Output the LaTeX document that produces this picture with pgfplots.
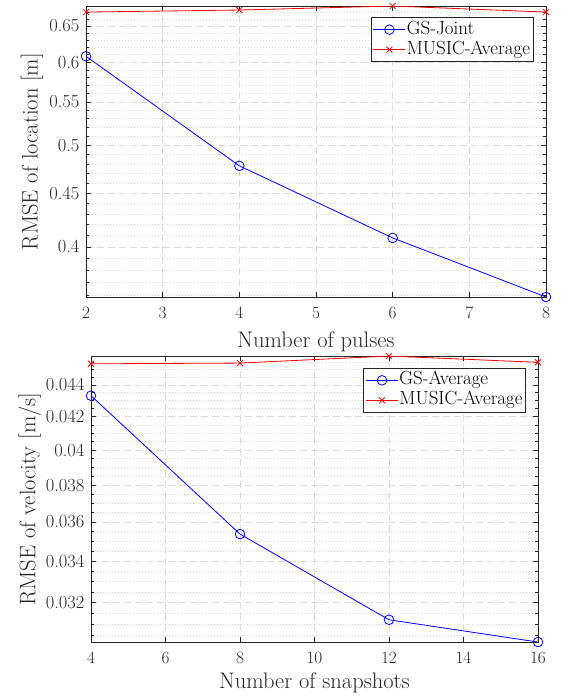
\documentclass[border=0pt]{standalone}
\usepackage{fontspec}
\usepackage{pgfplots}
\pgfplotsset{compat=1.18}
\definecolor{axcol}{rgb}{0.15,0.15,0.15}
\definecolor{gridcol}{rgb}{0.86,0.86,0.86}
\pgfplotsset{mystyle/.style={
  scale only axis,
  axis line style={axcol, line width=0.7pt},
  tick style={axcol, line width=0.6pt},
  tick align=inside, major tick length=5pt, minor tick length=3pt,
  xtick pos=both, ytick pos=both, xticklabel pos=lower, yticklabel pos=left,
  grid=both,
  major grid style={gridcol, dash pattern=on 7pt off 4pt, line width=0.7pt},
  minor grid style={gridcol, dash pattern=on 1pt off 2pt, line width=0.7pt},
  tick label style={font=\fontsize{18.5}{22}\selectfont, text=axcol},
  xticklabel style={yshift=-7pt},
  yticklabel style={xshift=-3pt},
  label style={font=\fontsize{22.5}{26}\selectfont, text=axcol},
  xlabel style={at={(axis description cs:0.5,0)}, anchor=base},
  legend style={font=\fontsize{19}{22}\selectfont, draw=axcol, line width=0.6pt, fill=white,
    anchor=north east, inner xsep=2pt, inner ysep=2pt, row sep=0pt,
    nodes={text height=14pt, text depth=5pt, inner ysep=0.5pt, inner xsep=1pt}},
  legend cell align=left,
  legend image code/.code={\draw[mark repeat=2,mark phase=2] plot coordinates {(0pt,0pt) (16pt,0pt) (32pt,0pt)};},
}}
\begin{document}
\begin{tikzpicture}
\useasboundingbox (0pt,0pt) rectangle (568pt,-696pt);
\begin{axis}[ymode=log, mystyle,
  at={(86pt,-297pt)}, anchor=south west, width=460pt, height=291pt,
  xmin=2, xmax=8, ymin=0.3584, ymax=0.679,
  xtick={2,3,4,5,6,7,8},
  ytick={0.4,0.45,0.5,0.55,0.6,0.65},
  yticklabels={0.4,0.45,0.5,0.55,0.6,0.65},
  minor ytick={0.36,0.37,0.38,0.39,0.41,0.42,0.43,0.44,0.46,0.47,0.48,0.49,0.51,0.52,0.53,0.54,0.56,0.57,0.58,0.59,0.61,0.62,0.63,0.64,0.66,0.67},
  xlabel={Number of pulses},
  ylabel={RMSE of location [m]},
  xlabel style={yshift=-50pt},
  ylabel style={at={(axis description cs:-0.1050,0.5)}, anchor=base},
  legend style={at={(rel axis cs:0.9724,0.961)}},
]
\addplot[blue, line width=0.8pt, mark=o, mark size=4.8pt] coordinates {(2,0.608) (4,0.478) (6,0.408) (8,0.3584)};
\addlegendentry{GS-Joint}
\addplot[red, line width=0.8pt, mark=x, mark size=4.2pt] coordinates {(2,0.670) (4,0.673) (6,0.679) (8,0.670)};
\addlegendentry{MUSIC-Average}
\end{axis}
\begin{axis}[ymode=log, mystyle,
  at={(91pt,-642pt)}, anchor=south west, width=447pt, height=286pt,
  xmin=4, xmax=16, ymin=0.0302, ymax=0.0459,
  xtick={4,6,8,10,12,14,16},
  ytick={0.032,0.034,0.036,0.038,0.04,0.042,0.044},
  yticklabels={0.032,0.034,0.036,0.038,0.04,0.042,0.044},
  minor ytick={0.0305,0.031,0.0315,0.0325,0.033,0.0335,0.0345,0.035,0.0355,0.0365,0.037,0.0375,0.0385,0.039,0.0395,0.0405,0.041,0.0415,0.0425,0.043,0.0435,0.0445,0.045,0.0455},
  xlabel={Number of snapshots},
  ylabel={RMSE of velocity [m/s]},
  xlabel style={yshift=-46pt},
  ylabel style={at={(axis description cs:-0.1245,0.5)}, anchor=base},
  legend style={at={(rel axis cs:0.973,0.958)}},
]
\addplot[blue, line width=0.8pt, mark=o, mark size=4.8pt] coordinates {(4,0.04331) (8,0.03537) (12,0.0312) (16,0.0302)};
\addlegendentry{GS-Average}
\addplot[red, line width=0.8pt, mark=x, mark size=4.2pt] coordinates {(4,0.04538) (8,0.04543) (12,0.0459) (16,0.04548)};
\addlegendentry{MUSIC-Average}
\end{axis}
\end{tikzpicture}
\end{document}
